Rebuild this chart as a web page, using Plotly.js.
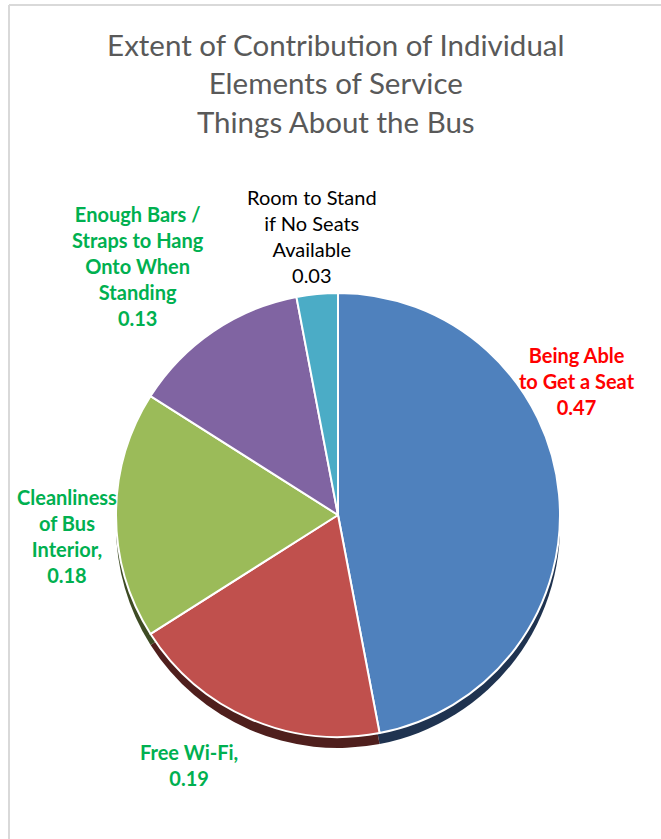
<!DOCTYPE html>
<html>
<head>
<meta charset="utf-8">
<script src="https://cdn.plot.ly/plotly-3.0.1.min.js"></script>
<style>
  html, body { margin: 0; padding: 0; background: #ffffff; }
  #chart { width: 661px; height: 839px; }
</style>
</head>
<body>
<div id="chart"></div>
<script>
// ---- data ----
const categories = [
  "Being Able<br>to Get a Seat",
  "Free Wi-Fi,",
  "Cleanliness<br>of Bus<br>Interior,",
  "Enough Bars /<br>Straps to Hang<br>Onto When<br>Standing",
  "Room to Stand<br>if No Seats<br>Available"
];
const values = [0.47, 0.19, 0.18, 0.13, 0.03];
const titleLines = ["Extent of Contribution of Individual", "Elements of Service", "Things About the Bus"];

// ---- styles ----
const sliceColors  = ["#4F81BD", "#C0504D", "#9BBB59", "#8064A2", "#4BACC6"];
const shadowColors = ["#1F3350", "#4F1F1D", "#3E4B24", "#33284A", "#1E4550"];
const labelColors  = ["#FF0000", "#00B050", "#00B050", "#00B050", "#000000"];
const labelBold    = [true, true, true, true, false];
// label anchor positions in pixels (centre of text block)
const labelPos = [[577, 381], [189, 765], [67, 536], [138, 266], [312, 236]];

const W = 661, H = 839;
const cx = 338, cy = 515, r = 222, depth = 11;
const px = x => x / W;
const py = y => 1 - y / H;

const shadowTrace = {
  type: "pie",
  values: values,
  labels: categories,
  sort: false,
  direction: "clockwise",
  rotation: 0,
  marker: { colors: shadowColors, line: { color: "#ffffff", width: 0 } },
  textinfo: "none",
  hoverinfo: "skip",
  showlegend: false,
  domain: { x: [px(cx - r), px(cx + r)], y: [py(cy + depth + r), py(cy + depth - r)] }
};

const faceTrace = {
  type: "pie",
  values: values,
  labels: categories,
  sort: false,
  direction: "clockwise",
  rotation: 0,
  marker: { colors: sliceColors, line: { color: "#ffffff", width: 2 } },
  textinfo: "none",
  showlegend: false,
  domain: { x: [px(cx - r), px(cx + r)], y: [py(cy + r), py(cy - r)] }
};

const annotations = categories.map((c, i) => {
  const txt = c + "<br>" + values[i].toFixed(2);
  return {
    xref: "paper", yref: "paper",
    x: px(labelPos[i][0]), y: py(labelPos[i][1]),
    xanchor: "center", yanchor: "middle", align: "center",
    showarrow: false,
    text: labelBold[i] ? "<b>" + txt + "</b>" : txt,
    font: { family: "Lato, 'Open Sans', sans-serif", size: 20, color: labelColors[i] }
  };
});

const layout = {
  width: W, height: H, autosize: false,
  margin: { l: 0, r: 0, t: 0, b: 0 },
  paper_bgcolor: "#ffffff",
  title: {
    text: titleLines.join("<br>"),
    x: 0.508, xanchor: "center",
    y: py(56), yanchor: "top",
    font: { family: "Lato, 'Open Sans', sans-serif", size: 29.5, color: "#595959" }
  },
  annotations: annotations,
  shapes: [
    { type: "line", xref: "paper", yref: "paper", x0: px(9), x1: 1, y0: py(5), y1: py(5),
      line: { color: "#D9D9D9", width: 2 } },
    { type: "line", xref: "paper", yref: "paper", x0: px(9), x1: px(9), y0: py(5), y1: 0,
      line: { color: "#D9D9D9", width: 2 } }
  ]
};

Plotly.newPlot("chart", [shadowTrace, faceTrace], layout, { staticPlot: true, displayModeBar: false });
</script>
</body>
</html>
